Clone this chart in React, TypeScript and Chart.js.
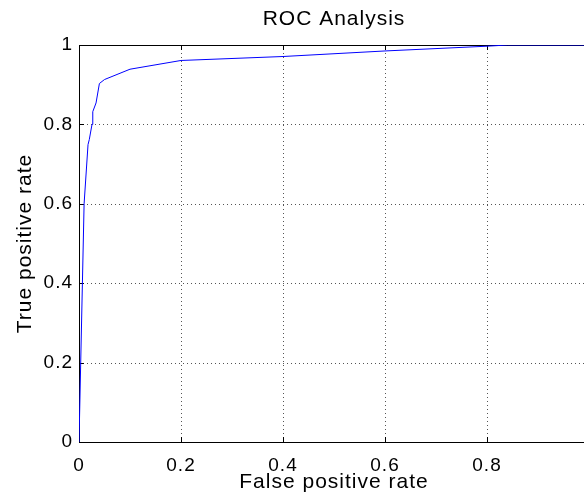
import React, { useEffect, useRef } from "react";
import { Chart, registerables } from "chart.js";

Chart.register(...registerables);

// ROC curve
const fpr = [0, 0.01, 0.0177, 0.0202, 0.0255, 0.027, 0.0334, 0.04, 0.05, 0.1, 0.2, 0.4, 0.6, 0.8, 0.84, 1.0];
const tpr = [0, 0.6, 0.749, 0.762, 0.8, 0.832, 0.854, 0.903, 0.913, 0.939, 0.961, 0.971, 0.985, 0.997, 1.0, 1.0];

const xTicks = [0, 0.2, 0.4, 0.6, 0.8, 1];
const yTicks = [0, 0.2, 0.4, 0.6, 0.8, 1];

const titleText = "ROC Analysis";
const xLabel = "False positive rate";
const yLabel = "True positive rate";

const FONT = "'Liberation Sans', Arial, Helvetica, sans-serif";
const CW = 640;
const CH = 520;
const LEFT = 79;
const TOP = 45;
const BOTTOM = 442;
const RIGHT = 589;

export default function App() {
  const ref = useRef<HTMLCanvasElement>(null);

  useEffect(() => {
    if (!ref.current) return;

    const frame = {
      id: "frame",
      beforeDraw(chart: any) {
        (chart.ctx as any).letterSpacing = "1px";
      },
      beforeDatasetsDraw(chart: any) {
        const { ctx, chartArea: a, scales } = chart;
        const x = scales.x;
        const y = scales.y;
        ctx.save();
        // dotted grid
        ctx.strokeStyle = "#555";
        ctx.lineWidth = 1;
        ctx.setLineDash([1, 3]);
        xTicks.forEach((v) => {
          if (v <= 0 || v >= 1) return;
          const px = Math.round(x.getPixelForValue(v)) + 0.5;
          ctx.beginPath();
          ctx.moveTo(px, a.top);
          ctx.lineTo(px, a.bottom);
          ctx.stroke();
        });
        yTicks.forEach((v) => {
          if (v <= 0 || v >= 1) return;
          const py = Math.round(y.getPixelForValue(v)) + 0.5;
          ctx.beginPath();
          ctx.moveTo(a.left, py);
          ctx.lineTo(a.right, py);
          ctx.stroke();
        });
        ctx.setLineDash([]);
        // top border
        ctx.strokeStyle = "#000";
        ctx.beginPath();
        ctx.moveTo(a.left, Math.round(a.top) + 0.5);
        ctx.lineTo(a.right, Math.round(a.top) + 0.5);
        ctx.stroke();
        // inward tick marks
        const TL = 5;
        xTicks.forEach((v) => {
          const px = Math.round(x.getPixelForValue(v)) + 0.5;
          ctx.beginPath();
          ctx.moveTo(px, a.bottom);
          ctx.lineTo(px, a.bottom - TL);
          ctx.moveTo(px, a.top);
          ctx.lineTo(px, a.top + TL);
          ctx.stroke();
        });
        yTicks.forEach((v) => {
          const py = Math.round(y.getPixelForValue(v)) + 0.5;
          ctx.beginPath();
          ctx.moveTo(a.left, py);
          ctx.lineTo(a.left + TL, py);
          ctx.moveTo(a.right, py);
          ctx.lineTo(a.right - TL, py);
          ctx.stroke();
        });
        ctx.restore();
      },
    };

    const chart = new Chart(ref.current, {
      type: "scatter",
      data: {
        datasets: [
          {
            data: fpr.map((v, i) => ({ x: v, y: tpr[i] })),
            showLine: true,
            borderColor: "#0000ff",
            backgroundColor: "#0000ff",
            borderWidth: 1,
            pointRadius: 0,
            fill: false,
            tension: 0,
          },
        ],
      },
      options: {
        responsive: false,
        animation: false,
        devicePixelRatio: 1,
        layout: { padding: { left: 0, right: CW - RIGHT, top: 0, bottom: 0 } },
        plugins: {
          legend: { display: false },
          tooltip: { enabled: false },
          title: {
            display: true,
            text: titleText,
            color: "#000",
            fullSize: false,
            font: { family: FONT, size: 21, weight: "normal", lineHeight: 1.2 },
            padding: { top: 6.8, bottom: TOP - 6.8 - 25.2 },
          },
        },
        scales: {
          x: {
            type: "linear",
            min: 0,
            max: 1,
            afterBuildTicks: (s: any) => {
              s.ticks = xTicks.map((v) => ({ value: v }));
            },
            afterFit: (s: any) => {
              s.height = CH - BOTTOM;
            },
            ticks: {
              color: "#000",
              font: { family: FONT, size: 19, lineHeight: 1.2 },
              padding: 12,
              maxRotation: 0,
              autoSkip: false,
              // the label at 1 lies outside the visible window in the reference
              callback: (v: any) => (Number(v) >= 1 ? "" : String(v)),
            },
            grid: { display: false, drawTicks: false },
            border: { display: true, color: "#000", width: 1 },
            title: {
              display: true,
              text: xLabel,
              color: "#000",
              font: { family: FONT, size: 21, lineHeight: 1.2 },
              padding: { top: 0, bottom: 25 },
            },
          },
          y: {
            type: "linear",
            min: 0,
            max: 1,
            afterBuildTicks: (s: any) => {
              s.ticks = yTicks.map((v) => ({ value: v }));
            },
            afterFit: (s: any) => {
              s.width = LEFT;
            },
            ticks: {
              color: "#000",
              font: { family: FONT, size: 19, lineHeight: 1.2 },
              padding: 6,
              autoSkip: false,
              callback: (v: any) => String(v),
            },
            grid: { display: false, drawTicks: false },
            border: { display: true, color: "#000", width: 1 },
            title: {
              display: true,
              text: yLabel,
              color: "#000",
              font: { family: FONT, size: 21, lineHeight: 1.2 },
              padding: { top: 13, bottom: 0 },
            },
          },
        },
      },
      plugins: [frame],
    } as any);

    return () => chart.destroy();
  }, []);

  return (
    <div
      style={{
        position: "fixed",
        left: 0,
        top: 0,
        width: 584,
        height: 494,
        overflow: "hidden",
        background: "#fff",
      }}
    >
      <canvas
        ref={ref}
        width={CW}
        height={CH}
        style={{ display: "block", width: CW, height: CH }}
      />
    </div>
  );
}
